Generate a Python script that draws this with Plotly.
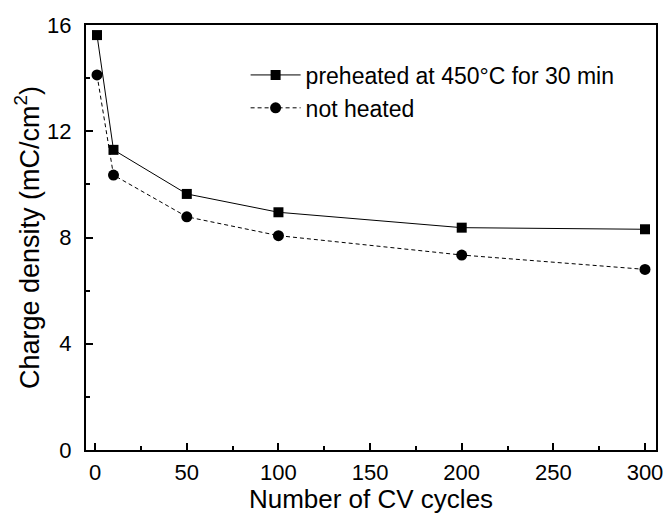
import plotly.graph_objects as go

# Charge density vs. number of CV cycles
cycles = [1, 10, 50, 100, 200, 300]
preheated = [15.62, 11.3, 9.64, 8.95, 8.37, 8.31]
not_heated = [14.12, 10.35, 8.78, 8.07, 7.34, 6.80]

series_names = ["preheated at 450°C for 30 min", "not heated"]

FONT = "Liberation Sans, Arial, sans-serif"

fig = go.Figure()
fig.add_trace(go.Scatter(
    x=cycles, y=preheated, name=series_names[0], mode="lines+markers",
    line=dict(color="black", width=1),
    marker=dict(symbol="square", size=10, color="black"),
))
fig.add_trace(go.Scatter(
    x=cycles, y=not_heated, name=series_names[1], mode="lines+markers",
    line=dict(color="black", width=1, dash="4px,3px"),
    marker=dict(symbol="circle", size=11, color="black"),
))

axis_common = dict(
    showline=True, linecolor="black", linewidth=2, mirror=True,
    ticks="inside", ticklen=7, tickwidth=1.5, tickcolor="black",
    showgrid=False, zeroline=False, automargin=False,
    tickfont=dict(family=FONT, size=22, color="black"),
)

fig.update_xaxes(
    range=[-5, 306], tickvals=[0, 50, 100, 150, 200, 250, 300],
    minor=dict(ticks="inside", ticklen=4, tickwidth=1.5, tickcolor="black",
               tickvals=[25, 75, 125, 175, 225, 275]),
    title=dict(text="Number of CV cycles", standoff=2,
               font=dict(family=FONT, size=26, color="black")),
    ticklabelstandoff=2,
    **axis_common,
)
fig.update_yaxes(
    range=[0, 16], tickvals=[0, 4, 8, 12, 16],
    minor=dict(ticks="inside", ticklen=4, tickwidth=1.5, tickcolor="black",
               tickvals=[2, 6, 10, 14]),
    title=dict(text="Charge density (mC/cm<sup>2</sup>)", standoff=0,
               font=dict(family=FONT, size=27, color="black")),
    ticklabelstandoff=8,
    **axis_common,
)

fig.update_layout(
    width=666, height=514,
    margin=dict(l=86, r=10, t=25, b=64),
    paper_bgcolor="white", plot_bgcolor="white",
    showlegend=True,
    legend=dict(
        x=0.28, y=0.933, xanchor="left", yanchor="top",
        bgcolor="rgba(0,0,0,0)", borderwidth=0,
        font=dict(family=FONT, size=23, color="black"),
        itemwidth=50, tracegroupgap=4,
    ),
)

fig.write_html("out.html")
